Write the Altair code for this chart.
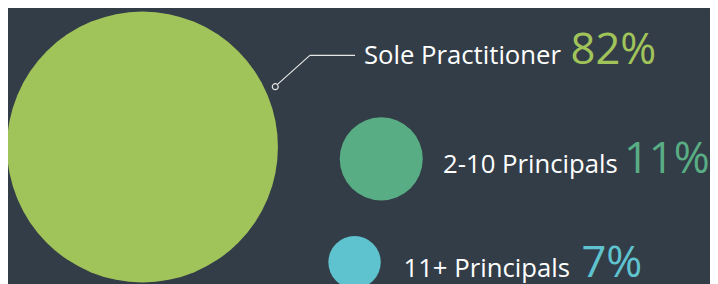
import altair as alt
import pandas as pd

# ---- data ----
categories = ["Sole Practitioner", "2-10 Principals", "11+ Principals"]
shares = [82, 11, 7]
share_labels = ["82%", "11%", "7%"]

# ---- styling / layout (kept separate from the data) ----
colors = ["#a1c45a", "#58ad84", "#5fc3cf"]
BG = "#333d47"
W, H = 710, 276

df = pd.DataFrame({"category": categories, "share": shares, "pct": share_labels})

color = alt.Color("category:N", scale=alt.Scale(domain=categories, range=colors), legend=None)

# bubble layout (piecewise scales keyed on the share value)
bubble_x = alt.Scale(domain=shares, range=[136, 377.5, 350.5])
bubble_y = alt.Scale(domain=shares, range=[139, 151, 255.5])
bubble_size = alt.Scale(domain=shares, range=[274 ** 2, 84 ** 2, 53 ** 2])

label_x = alt.Scale(domain=shares, range=[360, 440, 400])
pct_x = alt.Scale(domain=shares, range=[569, 623, 580])
text_y = alt.Scale(domain=shares, range=[55.5, 165, 270])

bubbles = alt.Chart(df).mark_circle(opacity=1).encode(
    x=alt.X("share:Q", scale=bubble_x, axis=None),
    y=alt.Y("share:Q", scale=bubble_y, axis=None),
    size=alt.Size("share:Q", scale=bubble_size, legend=None),
    color=color,
)

labels = alt.Chart(df).mark_text(
    font="Open Sans", fontSize=26, color="white", align="left", baseline="alphabetic"
).encode(
    x=alt.X("share:Q", scale=label_x, axis=None),
    y=alt.Y("share:Q", scale=text_y, axis=None),
    text="category:N",
)

pcts = alt.Chart(df).mark_text(
    font="Open Sans", fontSize=44, align="left", baseline="alphabetic"
).encode(
    x=alt.X("share:Q", scale=pct_x, axis=None),
    y=alt.Y("share:Q", scale=text_y, axis=None),
    text="pct:N",
    color=color,
)

one = pd.DataFrame({"k": [0]})
leader_a = alt.Chart(one).mark_rule(color="#e6e6e6", strokeWidth=1.2).encode(
    x=alt.value(270), y=alt.value(78), x2=alt.value(305.3), y2=alt.value(46.3)
)
leader_b = alt.Chart(one).mark_rule(color="#e6e6e6", strokeWidth=1.2).encode(
    x=alt.value(305.3), y=alt.value(46.3), x2=alt.value(351), y2=alt.value(46.3)
)
dot = alt.Chart(one).mark_point(
    shape="circle", filled=True, fill=BG, stroke="#e6e6e6", strokeWidth=1.2, size=36, opacity=1
).encode(x=alt.value(270.3), y=alt.value(78))

chart = alt.layer(bubbles, leader_a, leader_b, dot, labels, pcts).resolve_scale(
    x="independent", y="independent"
).properties(
    width=W, height=H, padding=0, background=BG,
    autosize=alt.AutoSizeParams(type="none"),
).configure_view(strokeWidth=0, fill=BG)

chart.save("out.html", embed_options={"renderer": "svg", "actions": False})
